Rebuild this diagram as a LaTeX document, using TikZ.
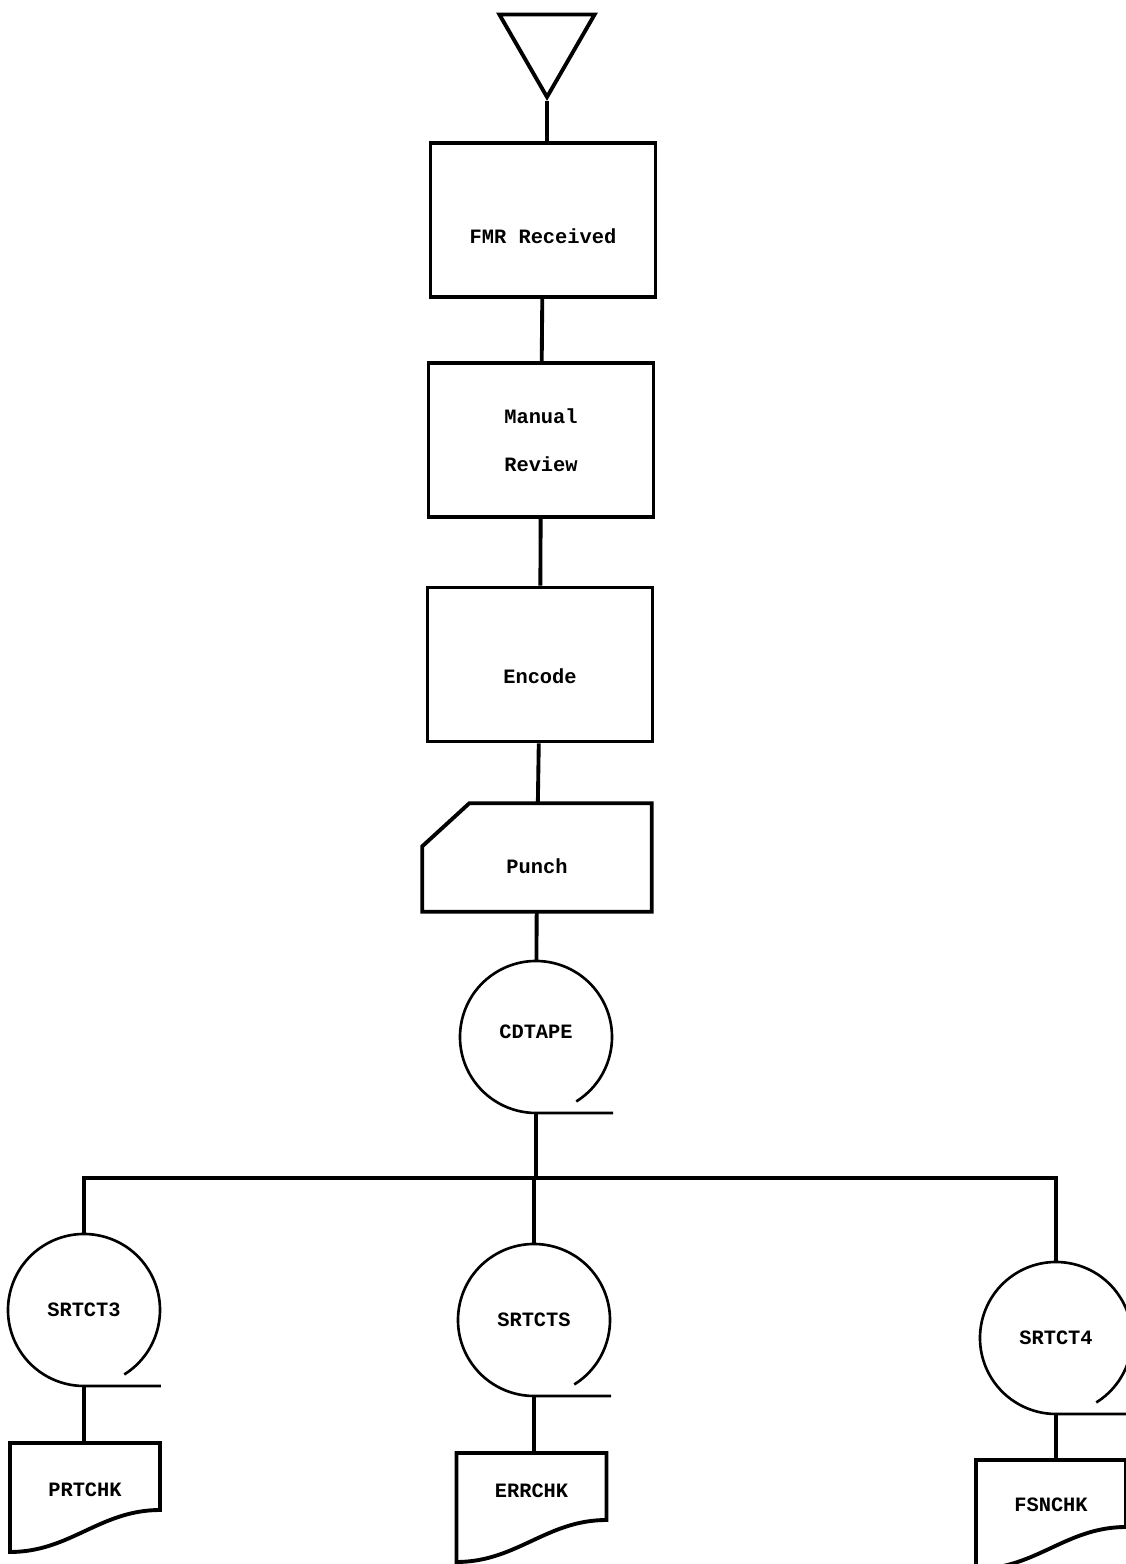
\documentclass[tikz,border=0pt]{standalone}
\usepackage{fontspec}
\setmonofont{Liberation Mono}
\usetikzlibrary{shapes.geometric}
% outlines drawn round a named node
\def\reel#1{\draw[tapeline] (#1.-58) arc[start angle=-58, end angle=270, radius=0.76cm] -- ++(0.77,0);}
\def\docframe#1{\draw[heavy] (#1.north west) -- (#1.north east) -- ([yshift=0.42cm]#1.south east) .. controls +(-0.6,0) and +(0.6,0) .. (#1.south west) -- cycle;}
\def\cardframe#1{\draw[heavy] (#1.north east) -- (#1.south east) -- (#1.south west) -- ([yshift=-0.43cm]#1.north west) -- ([xshift=0.47cm]#1.north west) -- cycle;}
\def\low#1#2{\raisebox{#1}[\height][\depth]{#2}}

\begin{document}
\begin{tikzpicture}
    \tikzstyle{every node} = [font=\ttfamily\bfseries\fontsize{5.8}{13.7}\selectfont]
    \tikzstyle{heavy} = [line width=1.1pt]
    \tikzstyle{tapeline} = [line width=0.75pt]
    \tikzstyle{process} = [draw, heavy, rectangle, minimum width=2.25cm, minimum height=1.54cm, align=center]
    \tikzstyle{card} = [rectangle, minimum width=2.28cm, minimum height=1.07cm]
    \tikzstyle{tape} = [circle, minimum size=1.52cm, inner sep=0pt, outer sep=0pt]
    \tikzstyle{report} = [rectangle, minimum width=1.5cm, minimum height=1.09cm, inner sep=0pt, outer sep=0pt]
    \useasboundingbox (0,0) rectangle (11.26,15.64);

    \node (start) [draw, heavy, regular polygon, regular polygon sides=3, shape border rotate=180, minimum size=1.1cm, inner sep=0pt] at (5.47,15.22) {};
    \node (received) [process] at (5.43,13.44) {\low{-0.16cm}{FMR Received}};
    \node (review) [process, below of=received, node distance=2.2cm, xshift=-0.02cm] {Manual\\Review};
    \node (encode) [process, below of=review, node distance=2.245cm, xshift=-0.01cm] {\low{-0.115cm}{Encode}};
    \node (punch) [card, below of=encode, node distance=1.93cm, xshift=-0.03cm] {\low{-0.09cm}{Punch}};
    \node (cdtape) [tape, below of=punch, node distance=1.795cm, xshift=-0.01cm] {\low{0.05cm}{CDTAPE}};
    \coordinate (bus) at (0,3.86);

    \node (sort3) [tape] at (0.84,2.54) {SRTCT3};
    \node (sorts) [tape] at (5.34,2.44) {SRTCTS};
    \node (sort4) [tape] at (10.56,2.26) {SRTCT4};
    \node (prtchk) [report] at (0.85,0.665) {\low{0.08cm}{PRTCHK}};
    \node (errchk) [report] at (5.315,0.565) {\low{0.17cm}{ERRCHK}};
    \node (fsnchk) [report] at (10.51,0.495) {\low{0.1cm}{FSNCHK}};

    \cardframe{punch}
    \reel{cdtape}
    \reel{sort3}
    \reel{sorts}
    \reel{sort4}
    \docframe{prtchk}
    \docframe{errchk}
    \docframe{fsnchk}

    \draw [heavy] (start.south) -- (start.south |- received.north);
    \draw [heavy] (received) -- (review);
    \draw [heavy] (review) -- (encode);
    \draw [heavy] (encode) -- (punch);
    \draw [heavy] (punch) -- (cdtape);
    \draw [heavy] (cdtape.south) -- (cdtape.south |- bus);
    \draw [heavy] (sort3.north) -- (sort3.north |- bus) -- (sort4.north |- bus) -- (sort4.north);
    \draw [heavy] (sorts.north |- bus) -- (sorts.north);
    \draw [heavy] (sort3.south) -- (sort3.south |- prtchk.north);
    \draw [heavy] (sorts.south) -- (sorts.south |- errchk.north);
    \draw [heavy] (sort4.south) -- (sort4.south |- fsnchk.north);
\end{tikzpicture}
\end{document}
